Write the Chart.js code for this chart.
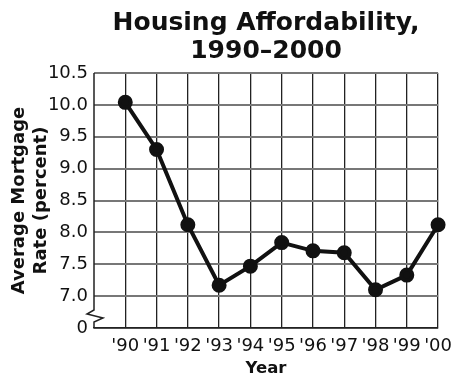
<!DOCTYPE html>
<html>
<head>
<meta charset="utf-8">
<script src="https://cdn.jsdelivr.net/npm/chart.js@4"></script>
<style>
  html, body { margin: 0; padding: 0; background: #fff; }
  #wrap { width: 460px; height: 377px; }
</style>
</head>
<body>
<div id="wrap"><canvas id="graphique" width="460" height="377"></canvas></div>
<script>
// Taux hypothécaire moyen, 1990-2000
const annees = ["'90", "'91", "'92", "'93", "'94", "'95", "'96", "'97", "'98", "'99", "'00"];
const taux = [10.04, 9.3, 8.12, 7.17, 7.47, 7.84, 7.71, 7.68, 7.1, 7.33, 8.12];
const etiquettesY = ['0', '7.0', '7.5', '8.0', '8.5', '9.0', '9.5', '10.0', '10.5'];

// Axe vertical tracé à la main pour y mettre la coupure (zigzag) près de 0
const axeAvecCoupure = {
  id: 'axeAvecCoupure',
  afterDatasetsDraw(chart) {
    const { ctx, chartArea } = chart;
    const x = chartArea.left;
    const bas = chartArea.bottom;
    ctx.save();
    ctx.strokeStyle = '#222';
    ctx.lineWidth = 1.5;
    ctx.lineJoin = 'miter';
    ctx.beginPath();
    ctx.moveTo(x, chartArea.top);
    ctx.lineTo(x, bas - 18);
    ctx.lineTo(x - 7, bas - 14);
    ctx.lineTo(x + 9, bas - 10);
    ctx.lineTo(x, bas - 6);
    ctx.lineTo(x, bas);
    ctx.stroke();
    ctx.restore();
  }
};

const police = "'DejaVu Sans', sans-serif";

new Chart(document.getElementById('graphique').getContext('2d'), {
  type: 'line',
  data: {
    labels: [''].concat(annees),
    datasets: [{
      data: [null].concat(taux),
      borderColor: '#111',
      backgroundColor: '#111',
      borderWidth: 4,
      pointRadius: 5.5,
      pointHoverRadius: 5.5,
      tension: 0
    }]
  },
  options: {
    responsive: false,
    animation: false,
    layout: { padding: { left: 0, right: 14, top: 0, bottom: 0 } },
    plugins: {
      legend: { display: false },
      tooltip: { enabled: false },
      title: {
        display: true,
        fullSize: false,
        text: ['Housing Affordability,', '1990–2000'],
        color: '#111',
        font: { family: police, size: 25, weight: 'bold', lineHeight: 1.12 },
        padding: { top: 9.5, bottom: 7.5 }
      }
    },
    scales: {
      x: {
        type: 'category',
        offset: false,
        afterFit(scale) { scale.height = 49; },
        grid: {
          drawTicks: false,
          lineWidth: 1.3,
          color: (c) => (c.index === 0 ? 'rgba(0,0,0,0)' : '#222')
        },
        border: { display: true, color: '#222', width: 1.5 },
        ticks: {
          padding: 8,
          color: '#111',
          maxRotation: 0,
          autoSkip: false,
          font: { family: police, size: 18 }
        },
        title: {
          display: true,
          text: 'Year',
          color: '#111',
          font: { family: police, size: 16.5, weight: 'bold', lineHeight: 0.97 },
          padding: { top: 0, bottom: 0 }
        }
      },
      y: {
        min: 6.5,
        max: 10.5,
        afterFit(scale) { scale.width = 94; },
        grid: { drawTicks: false, lineWidth: 2, color: '#777' },
        border: { display: false },
        ticks: {
          stepSize: 0.5,
          padding: 6,
          color: '#111',
          font: { family: police, size: 18 },
          callback: (v, i) => etiquettesY[i]
        },
        title: {
          display: true,
          text: ['Average Mortgage', 'Rate (percent)'],
          color: '#111',
          font: { family: police, size: 18, weight: 'bold', lineHeight: 1.2 },
          padding: { top: 8.5, bottom: 0 }
        }
      }
    }
  },
  plugins: [axeAvecCoupure]
});
</script>
</body>
</html>
